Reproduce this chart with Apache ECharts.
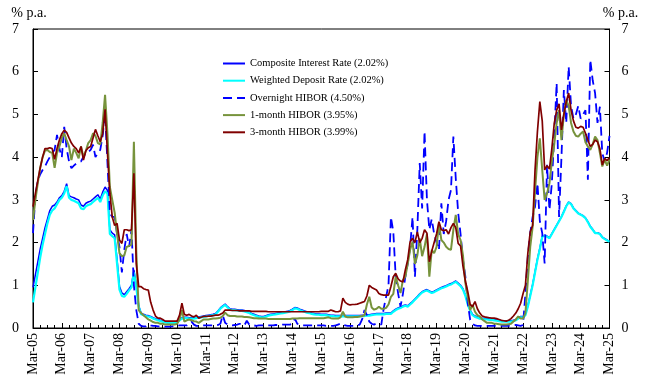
<!DOCTYPE html>
<html>
<head>
<meta charset="utf-8">
<script src="https://cdn.jsdelivr.net/npm/echarts@6/dist/echarts.min.js"></script>
<style>html,body{margin:0;padding:0;background:#fff}#c{width:657px;height:386px}</style>
</head>
<body>
<div id="c"></div>
<script>
// Monthly observations, Mar-05 (index 0) to Mar-25 (index 240); one row = Mar..Feb
var tickLabels = ['Mar-05','Mar-06','Mar-07','Mar-08','Mar-09','Mar-10','Mar-11','Mar-12','Mar-13','Mar-14','Mar-15','Mar-16','Mar-17','Mar-18','Mar-19','Mar-20','Mar-21','Mar-22','Mar-23','Mar-24','Mar-25'];
var seriesNames = ['Composite Interest Rate (2.02%)','Weighted Deposit Rate (2.02%)','Overnight HIBOR (4.50%)','1-month HIBOR (3.95%)','3-month HIBOR (3.99%)'];

var compositeRate = [
0.95,1.25,1.55,1.85,2.10,2.35,2.55,2.75,2.85,2.88,2.95,3.05,
3.10,3.20,3.38,3.10,3.07,3.05,3.02,3.00,2.88,2.85,2.92,2.95,
2.97,3.02,3.07,3.12,3.02,3.18,3.30,3.22,2.30,2.22,2.18,1.60,
0.98,0.82,0.78,0.85,0.92,1.00,1.36,1.00,0.52,0.35,0.32,0.30,
0.29,0.27,0.24,0.22,0.20,0.18,0.17,0.15,0.14,0.14,0.14,0.14,
0.16,0.20,0.24,0.25,0.25,0.24,0.24,0.24,0.25,0.26,0.27,0.28,
0.29,0.30,0.31,0.32,0.34,0.40,0.47,0.52,0.56,0.50,0.45,0.44,
0.44,0.43,0.42,0.42,0.41,0.39,0.37,0.34,0.32,0.30,0.28,0.27,
0.27,0.29,0.31,0.32,0.33,0.34,0.35,0.36,0.37,0.38,0.39,0.41,
0.44,0.48,0.47,0.44,0.42,0.40,0.38,0.37,0.35,0.34,0.33,0.33,
0.32,0.32,0.32,0.31,0.30,0.30,0.29,0.29,0.29,0.29,0.29,0.29,
0.29,0.29,0.29,0.29,0.29,0.30,0.30,0.31,0.31,0.32,0.33,0.34,
0.34,0.34,0.34,0.35,0.35,0.35,0.40,0.44,0.47,0.49,0.52,0.54,
0.52,0.57,0.62,0.68,0.74,0.80,0.85,0.88,0.90,0.87,0.84,0.86,
0.89,0.92,0.95,0.97,0.99,1.02,1.04,1.07,1.10,1.05,1.00,0.92,
0.77,0.57,0.42,0.32,0.28,0.26,0.24,0.23,0.22,0.22,0.21,0.21,
0.20,0.19,0.18,0.17,0.17,0.17,0.17,0.17,0.18,0.20,0.24,0.27,
0.27,0.32,0.52,0.77,1.02,1.32,1.62,1.87,2.15,2.17,2.15,2.11,
2.21,2.31,2.41,2.51,2.61,2.73,2.86,2.95,2.91,2.81,2.75,2.69,
2.66,2.63,2.58,2.49,2.38,2.31,2.23,2.23,2.21,2.13,2.09,2.06,
2.02];

var depositRate = [
0.60,0.95,1.30,1.65,1.95,2.20,2.45,2.65,2.75,2.80,2.90,3.00,
3.05,3.15,3.32,3.05,3.00,2.98,2.95,2.92,2.80,2.78,2.85,2.88,
2.90,2.95,3.00,3.05,2.95,3.10,3.20,3.15,2.20,2.15,2.10,1.50,
0.90,0.75,0.73,0.80,0.88,0.95,1.30,0.95,0.50,0.32,0.30,0.28,
0.27,0.25,0.22,0.20,0.18,0.16,0.15,0.13,0.12,0.12,0.12,0.12,
0.14,0.18,0.22,0.23,0.23,0.22,0.22,0.22,0.23,0.24,0.25,0.26,
0.27,0.28,0.29,0.30,0.32,0.38,0.45,0.50,0.54,0.48,0.43,0.42,
0.42,0.41,0.40,0.40,0.39,0.37,0.35,0.32,0.30,0.28,0.26,0.25,
0.25,0.27,0.29,0.30,0.31,0.32,0.33,0.34,0.35,0.36,0.37,0.39,
0.42,0.46,0.45,0.42,0.40,0.38,0.36,0.35,0.33,0.32,0.31,0.31,
0.30,0.30,0.30,0.29,0.28,0.28,0.27,0.27,0.27,0.27,0.27,0.27,
0.27,0.27,0.27,0.27,0.27,0.28,0.28,0.29,0.29,0.30,0.31,0.32,
0.32,0.32,0.32,0.33,0.33,0.33,0.38,0.42,0.45,0.47,0.50,0.52,
0.50,0.55,0.60,0.66,0.72,0.78,0.83,0.86,0.88,0.85,0.82,0.84,
0.87,0.90,0.93,0.95,0.97,1.00,1.02,1.05,1.08,1.03,0.98,0.90,
0.75,0.55,0.40,0.30,0.26,0.24,0.22,0.21,0.20,0.20,0.19,0.19,
0.18,0.17,0.16,0.15,0.15,0.15,0.15,0.15,0.16,0.18,0.22,0.25,
0.25,0.30,0.50,0.75,1.00,1.30,1.60,1.85,2.14,2.16,2.14,2.10,
2.20,2.30,2.40,2.50,2.60,2.72,2.85,2.94,2.90,2.80,2.74,2.68,
2.65,2.62,2.57,2.48,2.37,2.30,2.22,2.22,2.20,2.12,2.08,2.05,
2.02];

var overnightHibor = [
2.22,3.10,3.45,3.60,3.70,3.78,3.90,4.00,4.10,4.17,4.52,4.20,
4.00,4.71,4.20,3.90,3.74,3.80,3.85,3.88,3.90,4.01,4.10,4.12,
4.17,4.29,4.00,4.10,4.17,4.50,5.03,3.86,2.69,2.60,2.60,2.20,
1.90,1.30,1.83,2.20,1.90,2.30,1.00,0.42,0.10,0.05,0.04,0.04,
0.08,0.06,0.05,0.05,0.04,0.04,0.04,0.03,0.03,0.03,0.04,0.05,
0.05,0.06,0.06,0.06,0.06,0.10,0.15,0.08,0.05,0.05,0.06,0.06,
0.06,0.06,0.06,0.06,0.06,0.07,0.10,0.30,0.12,0.08,0.06,0.06,
0.07,0.08,0.10,0.08,0.06,0.17,0.08,0.06,0.06,0.05,0.06,0.06,
0.06,0.06,0.06,0.06,0.06,0.07,0.07,0.07,0.08,0.08,0.08,0.08,
0.10,0.22,0.10,0.07,0.06,0.06,0.06,0.06,0.06,0.06,0.06,0.06,
0.06,0.06,0.05,0.05,0.05,0.05,0.06,0.08,0.10,0.10,0.06,0.05,
0.05,0.05,0.05,0.06,0.08,0.20,0.42,0.30,0.15,0.10,0.08,0.11,
0.10,0.08,0.46,0.73,1.00,2.60,2.25,1.20,0.81,0.50,0.80,1.20,
1.51,1.90,2.60,1.20,2.30,3.86,2.80,4.60,3.00,2.30,2.55,2.20,
2.00,1.83,2.92,2.20,2.50,3.00,3.23,4.48,3.50,2.70,2.20,1.60,
1.20,0.58,0.19,0.10,0.06,0.05,0.05,0.05,0.05,0.05,0.05,0.05,
0.05,0.05,0.05,0.05,0.05,0.05,0.05,0.05,0.06,0.07,0.06,0.05,
0.07,0.81,1.67,2.22,2.60,2.84,3.39,2.50,2.22,1.51,3.82,2.76,
3.39,4.50,5.73,2.60,4.00,5.57,4.80,6.12,5.20,4.90,5.00,5.20,
4.90,5.00,5.10,3.47,6.28,5.80,5.50,4.80,5.18,4.09,3.90,4.10,
4.50];

var hibor1m = [
2.53,3.00,3.40,3.75,4.00,4.15,4.17,4.12,4.10,3.75,4.10,4.25,
4.45,4.56,4.40,4.25,3.93,4.20,4.10,3.97,4.25,4.00,4.15,4.33,
4.40,4.56,4.50,4.33,4.30,4.80,5.46,4.55,3.30,3.00,2.70,2.20,
1.75,1.68,1.70,1.90,1.92,1.95,4.36,1.80,0.42,0.35,0.30,0.25,
0.20,0.17,0.14,0.12,0.12,0.10,0.10,0.08,0.08,0.08,0.08,0.08,
0.10,0.20,0.42,0.15,0.18,0.20,0.18,0.16,0.15,0.12,0.16,0.20,
0.20,0.20,0.21,0.22,0.22,0.23,0.24,0.28,0.36,0.30,0.28,0.28,
0.28,0.27,0.27,0.27,0.26,0.26,0.25,0.24,0.23,0.23,0.22,0.22,
0.22,0.22,0.21,0.21,0.21,0.21,0.21,0.21,0.21,0.21,0.21,0.21,
0.22,0.22,0.22,0.23,0.23,0.23,0.23,0.23,0.23,0.23,0.23,0.23,
0.23,0.23,0.24,0.25,0.23,0.22,0.22,0.22,0.25,0.38,0.27,0.25,
0.25,0.25,0.26,0.26,0.27,0.28,0.30,0.55,0.73,0.48,0.43,0.45,
0.50,0.45,0.45,0.47,0.55,0.73,0.80,1.20,1.00,0.82,1.12,1.20,
1.50,1.83,2.02,1.50,1.70,2.10,1.68,1.90,2.20,1.20,1.83,1.75,
1.90,2.45,2.06,2.00,1.90,1.85,1.83,2.30,2.65,2.20,2.06,1.70,
1.05,0.73,0.42,0.54,0.38,0.30,0.27,0.20,0.16,0.12,0.12,0.12,
0.10,0.10,0.09,0.08,0.08,0.08,0.09,0.10,0.15,0.20,0.27,0.22,
0.22,0.35,1.10,1.90,2.37,3.20,4.00,4.44,3.70,3.00,3.15,3.39,
3.90,4.30,4.80,5.10,4.40,5.00,5.34,5.20,4.80,4.60,4.50,4.48,
4.55,4.60,4.35,4.25,4.17,4.30,4.48,4.40,4.10,3.78,3.94,3.80,
3.95];

var hibor3m = [
2.84,3.15,3.45,3.75,4.00,4.20,4.20,4.22,4.20,3.95,4.20,4.40,
4.55,4.63,4.58,4.45,4.33,4.25,4.20,4.10,4.25,3.93,4.15,4.22,
4.25,4.45,4.65,4.50,4.36,4.55,5.12,4.10,3.15,2.60,2.40,2.45,
2.06,1.98,2.30,2.30,2.28,2.30,3.62,1.50,0.97,0.97,0.92,0.90,
0.89,0.60,0.42,0.28,0.23,0.23,0.20,0.16,0.16,0.16,0.16,0.16,
0.16,0.30,0.58,0.32,0.30,0.32,0.28,0.26,0.30,0.23,0.25,0.27,
0.27,0.28,0.28,0.29,0.30,0.30,0.32,0.35,0.42,0.42,0.42,0.41,
0.41,0.41,0.40,0.40,0.40,0.40,0.40,0.39,0.39,0.39,0.39,0.39,
0.39,0.39,0.38,0.38,0.38,0.38,0.38,0.38,0.38,0.38,0.38,0.38,
0.38,0.38,0.38,0.38,0.38,0.38,0.38,0.38,0.38,0.38,0.38,0.38,
0.39,0.39,0.39,0.39,0.42,0.40,0.38,0.38,0.40,0.70,0.60,0.56,
0.54,0.55,0.55,0.56,0.58,0.60,0.62,0.75,1.00,0.95,0.92,0.89,
0.81,0.78,0.77,0.77,0.77,0.97,1.20,1.28,1.15,1.10,1.08,1.36,
1.60,2.02,2.10,2.00,2.25,2.00,2.10,2.30,2.22,1.55,1.80,2.00,
2.20,2.49,2.30,2.28,2.30,2.20,2.35,2.45,2.35,1.98,1.92,1.45,
1.10,0.85,0.55,0.50,0.62,0.45,0.35,0.28,0.26,0.25,0.24,0.23,
0.23,0.22,0.20,0.18,0.17,0.16,0.18,0.22,0.28,0.35,0.45,0.58,
0.80,1.00,1.75,2.25,2.40,3.70,4.60,5.30,4.85,3.70,3.80,3.72,
4.20,4.79,5.10,5.25,4.64,5.00,5.30,5.50,5.10,4.85,4.70,4.68,
4.72,4.70,4.56,4.40,4.25,4.30,4.40,4.36,4.20,3.82,3.97,3.92,
3.99];

var FONT = '"Liberation Serif","Times New Roman",serif';
function pts(arr){ return arr.map(function(v,i){ return [i, v]; }); }

var yAxisBase = function(pos, padding, margin){
  return {
    type:'value', position:pos, min:0, max:7, interval:1,
    name:'% p.a.', nameLocation:'end', nameGap:9,
    nameTextStyle:{fontFamily:FONT, fontSize:14, color:'#000', padding:padding},
    axisLine:{show:true, lineStyle:{color:'#000', width:1}},
    axisTick:{show:true, inside:true, length:5, lineStyle:{color:'#000'}},
    axisLabel:{fontFamily:FONT, fontSize:14, color:'#000', margin:margin},
    splitLine:{show:false}
  };
};

var chart = echarts.init(document.getElementById('c'), null, {renderer:'canvas'});
chart.setOption({
  animation:false,
  backgroundColor:'#fff',
  grid:{left:33, right:47.5, top:29, bottom:58, show:true, borderColor:'#000', borderWidth:1, containLabel:false},
  legend:{
    orient:'vertical', left:222, top:58, padding:0, itemWidth:22, itemHeight:10, itemGap:6.2,
    itemStyle:{opacity:0},
    textStyle:{fontFamily:FONT, fontSize:10.5, color:'#000'},
    data:seriesNames
  },
  xAxis:{
    type:'value', min:0, max:240, interval:12,
    axisLine:{show:true, lineStyle:{color:'#000'}},
    axisTick:{show:true, inside:true, length:5, lineStyle:{color:'#000'}},
    minorTick:{show:true, splitNumber:4, length:3, lineStyle:{color:'#000'}},
    splitLine:{show:false}, minorSplitLine:{show:false},
    axisLabel:{rotate:90, margin:5, fontFamily:FONT, fontSize:14, color:'#000',
      formatter:function(v){ return tickLabels[Math.round(v/12)]; }}
  },
  yAxis:[ yAxisBase('left',[0,8,0,0],14), yAxisBase('right',[0,0,0,22],12) ],
  series:[
    {name:seriesNames[0], type:'line', data:pts(compositeRate), symbol:'none', lineStyle:{color:'#0000FF', width:1.5}, itemStyle:{color:'#0000FF'}},
    {name:seriesNames[1], type:'line', data:pts(depositRate), symbol:'none', lineStyle:{color:'#00FFFF', width:2.2}, itemStyle:{color:'#00FFFF'}},
    {name:seriesNames[2], type:'line', data:pts(overnightHibor), symbol:'none', lineStyle:{color:'#0000FF', width:1.8, type:[9,5]}, itemStyle:{color:'#0000FF'}},
    {name:seriesNames[3], type:'line', data:pts(hibor1m), symbol:'none', lineStyle:{color:'#77933C', width:2}, itemStyle:{color:'#77933C'}},
    {name:seriesNames[4], type:'line', data:pts(hibor3m), symbol:'none', lineStyle:{color:'#800000', width:1.7}, itemStyle:{color:'#800000'}}
  ]
});
</script>
</body>
</html>
